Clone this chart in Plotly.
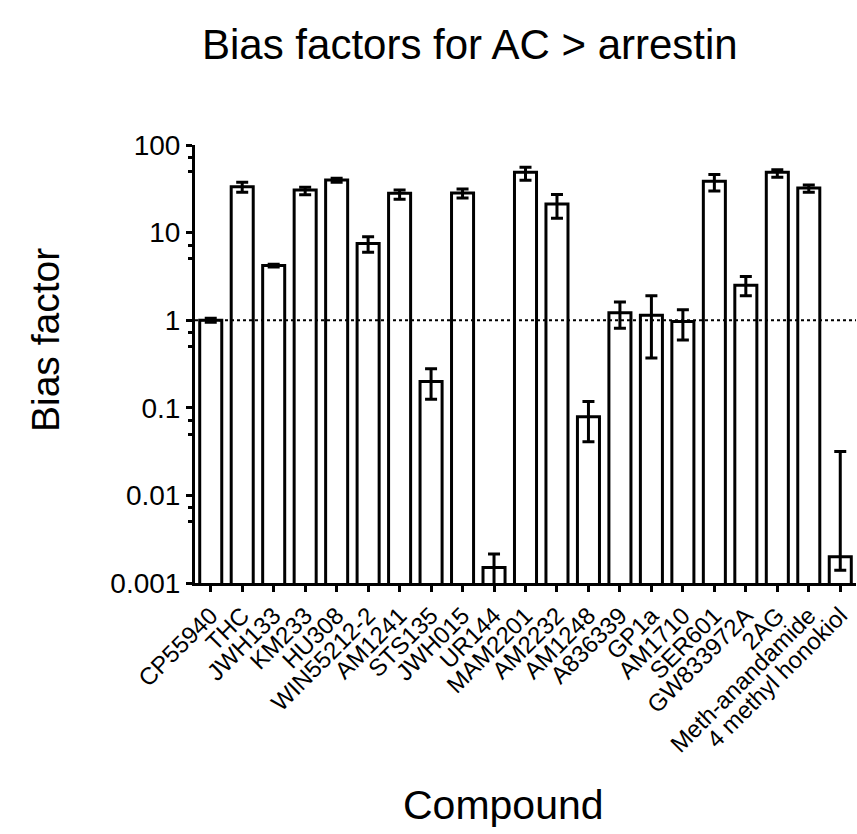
import plotly.graph_objects as go

compounds = ["CP55940", "THC", "JWH133", "KM233", "HU308", "WIN55212-2", "AM1241",
             "STS135", "JWH015", "UR144", "MAM2201", "AM2232", "AM1248", "A836339",
             "GP1a", "AM1710", "SER601", "GW833972A", "2AG", "Meth-anandamide",
             "4 methyl honokiol"]
bias = [1.0, 33.4, 4.2, 30.6, 39.8, 7.5, 28.1,
        0.20, 28.3, 0.0015, 48.7, 21.2, 0.079, 1.22,
        1.14, 0.966, 38.5, 2.51, 48.7, 32.3,
        0.002]
err_plus = [0.05, 4.1, 0.15, 2.3, 1.8, 1.45, 2.5,
            0.08, 3.1, 0.00065, 7.0, 6.1, 0.039, 0.39,
            0.76, 0.35, 7.7, 0.65, 3.5, 2.6,
            0.0298]
err_minus = [0.05, 4.6, 0.15, 3.6, 2.3, 1.55, 4.0,
             0.075, 3.5, 0.0008, 9.0, 6.6, 0.038, 0.41,
             0.77, 0.37, 8.7, 0.61, 6.0, 3.5,
             0.0006]
ytick_vals = [0.001, 0.01, 0.1, 1, 10, 100]
ytick_text = ["0.001", "0.01", "0.1", "1", "10", "100"]
yminor_vals = [m * v for v in [0.01, 0.1, 1, 10, 100] for m in (0.5, 0.72)]

FONT = "Arial, Liberation Sans, sans-serif"

fig = go.Figure()
fig.add_trace(go.Bar(
    x=compounds, y=bias, width=0.7,
    marker=dict(color="white", line=dict(color="black", width=3)),
    error_y=dict(type="data", symmetric=False, array=err_plus, arrayminus=err_minus,
                 color="black", thickness=3, width=6),
))

fig.add_shape(type="line", xref="paper", yref="y", x0=0, x1=1, y0=1, y1=1,
              line=dict(color="black", width=2, dash="dot"), layer="above")

fig.update_layout(
    width=857, height=834,
    margin=dict(l=195, r=1, t=145, b=251),
    paper_bgcolor="white", plot_bgcolor="white",
    showlegend=False,
    font=dict(family=FONT, color="black"),
    bargap=0.3,
)
fig.update_xaxes(
    type="category", range=[-0.5, 20.5],
    showline=True, linecolor="black", linewidth=3,
    ticks="outside", ticklen=6, tickwidth=3, tickcolor="black",
    tickangle=-45, tickfont=dict(size=24, family=FONT, color="black"),
    showgrid=False, zeroline=False,
)
fig.update_yaxes(
    type="log", range=[-3, 2],
    showline=True, linecolor="black", linewidth=3,
    tickmode="array", tickvals=ytick_vals, ticktext=ytick_text,
    ticks="outside", ticklen=6, tickwidth=3, tickcolor="black",
    tickfont=dict(size=28, family=FONT, color="black"),
    minor=dict(tickmode="array", tickvals=yminor_vals, ticks="outside",
               ticklen=4, tickwidth=3, tickcolor="black", showgrid=False),
    showgrid=False, zeroline=False,
)

fig.add_annotation(text="Bias factors for AC > arrestin", xref="paper", yref="paper",
                   x=(470 - 195) / 661, y=(583 - 44) / 438, xanchor="center", yanchor="middle",
                   showarrow=False, font=dict(size=42, family=FONT, color="black"))
fig.add_annotation(text="Bias factor", xref="paper", yref="paper",
                   x=(45 - 195) / 661, y=(583 - 340) / 438, xanchor="center", yanchor="middle",
                   textangle=-90, showarrow=False,
                   font=dict(size=39, family=FONT, color="black"))
fig.add_annotation(text="Compound", xref="paper", yref="paper",
                   x=(503 - 195) / 661, y=(583 - 805) / 438, xanchor="center", yanchor="middle",
                   showarrow=False, font=dict(size=41, family=FONT, color="black"))

fig.write_html("out.html", config={"displayModeBar": False},
               post_script="document.body.style.margin='0';document.body.style.overflow='hidden';")
